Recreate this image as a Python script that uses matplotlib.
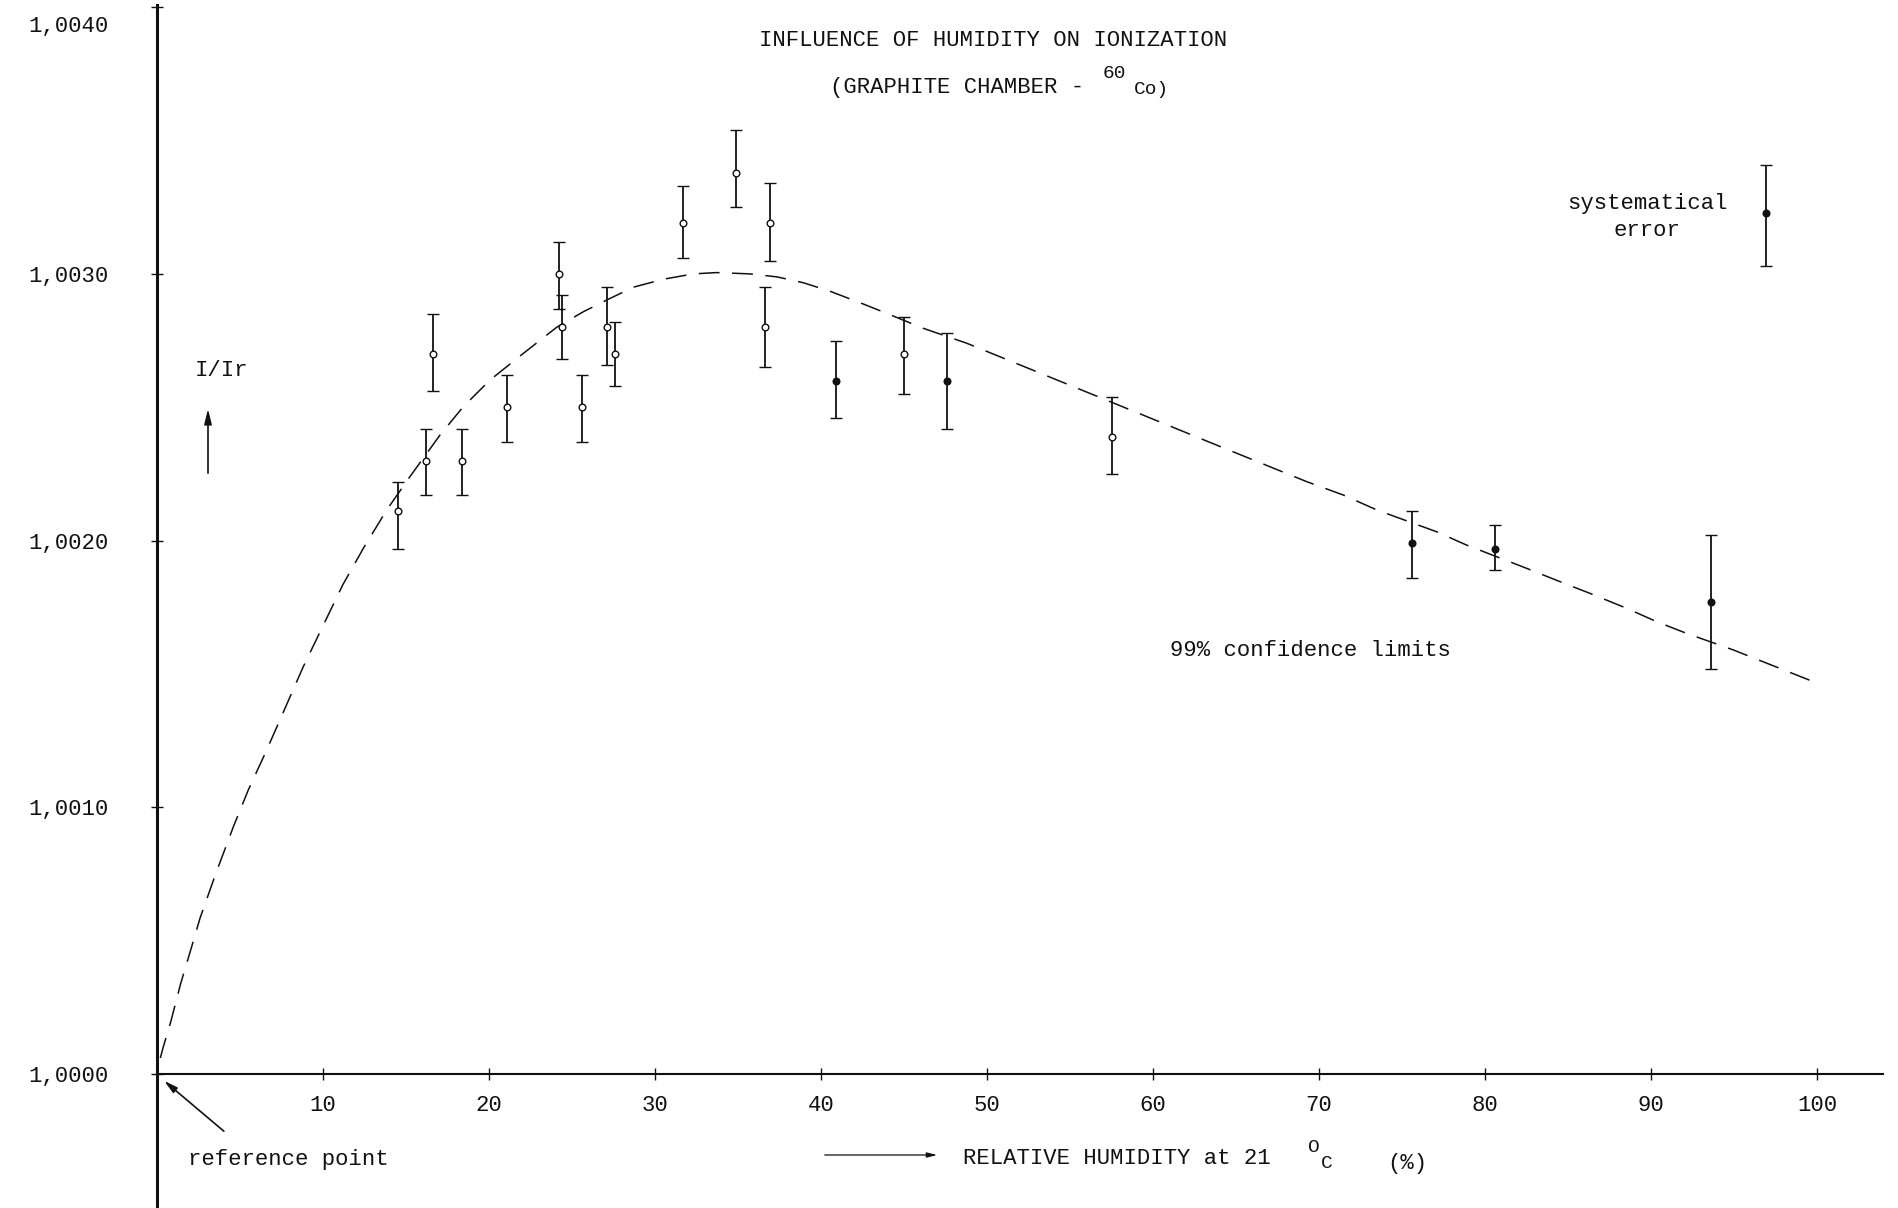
import matplotlib
matplotlib.use("Agg")
import matplotlib.pyplot as plt
import matplotlib.transforms as mtransforms
import numpy as np

plt.rcParams['font.family'] = ['Liberation Mono', 'DejaVu Sans Mono']
plt.rcParams['lines.scale_dashes'] = False

# ---------------- data ----------------
# measurements drawn with open circles (relative humidity %, I/Ir, 99% limits)
open_rh = [14.5, 16.2, 16.6, 18.4, 21.1, 24.2, 24.4, 25.6, 27.1, 27.6,
           31.7, 34.9, 36.6, 36.9, 45.0, 57.5]
open_val = [1.00211, 1.00230, 1.00270, 1.00230, 1.00250, 1.00300, 1.00280,
            1.00250, 1.00280, 1.00270, 1.00319, 1.00338, 1.00280, 1.00319,
            1.00270, 1.00239]
open_low = [1.00197, 1.00217, 1.00256, 1.00217, 1.00237, 1.00287, 1.00268,
            1.00237, 1.00266, 1.00258, 1.00306, 1.00325, 1.00265, 1.00305,
            1.00255, 1.00225]
open_high = [1.00222, 1.00242, 1.00285, 1.00242, 1.00262, 1.00312, 1.00292,
             1.00262, 1.00295, 1.00282, 1.00333, 1.00354, 1.00295, 1.00334,
             1.00284, 1.00254]

# measurements drawn with filled dots
filled_rh = [40.9, 47.6, 75.6, 80.6, 93.6]
filled_val = [1.00260, 1.00260, 1.00199, 1.00197, 1.00177]
filled_low = [1.00246, 1.00242, 1.00186, 1.00189, 1.00152]
filled_high = [1.00275, 1.00278, 1.00211, 1.00206, 1.00202]

# systematical error indicator
sys_rh = [96.9]
sys_val = [1.00323]
sys_low = [1.00303]
sys_high = [1.00341]

# dashed fitted curve
fit_rh = [0.2, 0.38, 0.83, 1.43, 2.03, 2.59, 3.55, 4.60, 5.50, 6.61, 7.71,
          8.81, 11.19, 12.43, 13.84, 15.24, 17.05, 18.45, 20.06, 22.07,
          24.08, 25.68, 27.09, 28.69, 30.50, 32.31, 33.72, 35.72, 37.33,
          38.93, 40.54, 42.35, 43.96, 46.16, 48.78, 56.20, 63.52, 69.26,
          71.46, 73.48, 77.09, 78.90, 82.51, 84.52, 86.33, 88.54, 90.34,
          92.15, 94.96, 99.62]
fit_val = [1.00006, 1.000102, 1.000196, 1.00034, 1.000465, 1.000584,
           1.000753, 1.000927, 1.001065, 1.001215, 1.001371, 1.001527,
           1.001834, 1.001971, 1.002115, 1.00224, 1.002396, 1.002502,
           1.002602, 1.002702, 1.0028, 1.002858, 1.002902, 1.00295,
           1.00298, 1.003, 1.003005, 1.003, 1.002989, 1.002967, 1.002935,
           1.002892, 1.002852, 1.002796, 1.00274, 1.002552, 1.002366,
           1.002221, 1.002171, 1.002115, 1.002033, 1.001983, 1.001896,
           1.001846, 1.001802, 1.001746, 1.001696, 1.001652, 1.00159,
           1.001475]

x_ticks = [10, 20, 30, 40, 50, 60, 70, 80, 90, 100]
x_tick_labels = ["10", "20", "30", "40", "50", "60", "70", "80", "90", "100"]
y_ticks = [1.0000, 1.0010, 1.0020, 1.0030, 1.0040]
y_tick_labels = ["1,0000", "1,0010", "1,0020", "1,0030", "1,0040"]

# ---------------- figure ----------------
W, H = 1899, 1208
fig = plt.figure(figsize=(W / 100, H / 100), dpi=100)
ax = fig.add_axes([0, 0, 1, 1])

x0_px, px_per_pct = 157.0, 16.6
y0_px, px_per_unit = 1074.0, 266700.0
ax.set_xlim(-x0_px / px_per_pct, (W - x0_px) / px_per_pct)
ax.set_ylim(1 - (H - y0_px) / px_per_unit, 1 + y0_px / px_per_unit)

INK = '#111111'
for s in ['top', 'right']:
    ax.spines[s].set_visible(False)
ax.spines['left'].set_position(('data', 0))
ax.spines['bottom'].set_position(('data', 1.0))
ax.spines['left'].set_bounds(ax.get_ylim()[0], 1.00401)
ax.spines['bottom'].set_bounds(0, 104.0)
ax.spines['left'].set_linewidth(2.2)
ax.spines['bottom'].set_linewidth(1.5)
ax.spines['left'].set_color(INK)
ax.spines['bottom'].set_color(INK)

ax.set_xticks(x_ticks, x_tick_labels)
ax.set_yticks(y_ticks, y_tick_labels)
ax.tick_params(axis='both', direction='inout', length=8, width=1.0,
               labelsize=16, colors=INK)
ax.tick_params(axis='x', pad=11)
ax.tick_params(axis='y', pad=31)
top_lbl = ax.yaxis.get_major_ticks()[-1].label1
top_lbl.set_verticalalignment('top')
top_lbl.set_transform(top_lbl.get_transform() +
                      mtransforms.ScaledTranslation(0, -6 / 72,
                                                    fig.dpi_scale_trans))

# dashed curve
ax.plot(fit_rh, fit_val, color=INK, lw=1.1, dashes=(15, 9), zorder=2)


def bars(x, v, lo, hi, face):
    yerr = [np.subtract(v, lo), np.subtract(hi, v)]
    ax.errorbar(x, v, yerr=yerr, fmt='o', ms=4.8, mfc=face, mec=INK,
                mew=1.0, ecolor=INK, elinewidth=1.3, capsize=4.5,
                capthick=1.2, zorder=3)


bars(open_rh, open_val, open_low, open_high, 'white')
bars(filled_rh, filled_val, filled_low, filled_high, INK)
bars(sys_rh, sys_val, sys_low, sys_high, INK)


def fp(X, Y):
    return (X / W, 1 - Y / H)


FS = 16
fig.text(*fp(993, 41), "INFLUENCE OF HUMIDITY ON IONIZATION", ha='center',
         va='center', fontsize=FS, color=INK)
fig.text(*fp(830, 88), "(GRAPHITE CHAMBER -", ha='left', va='center',
         fontsize=FS, color=INK)
fig.text(*fp(1103, 74), "60", ha='left', va='center', fontsize=14, color=INK)
fig.text(*fp(1134, 90), "Co)", ha='left', va='center', fontsize=14, color=INK)

fig.text(*fp(1647, 203), "systematical", ha='center', va='center',
         fontsize=FS, color=INK)
fig.text(*fp(1647, 231), "error", ha='center', va='center', fontsize=FS,
         color=INK)

fig.text(*fp(1310, 650), "99% confidence limits", ha='center', va='center',
         fontsize=FS, color=INK)

fig.text(*fp(195, 371), "I/Ir", ha='left', va='center', fontsize=FS,
         color=INK)
ax.annotate("", xy=fp(208, 406), xycoords='figure fraction',
            xytext=fp(208, 476), textcoords='figure fraction',
            arrowprops=dict(arrowstyle='-|>,head_length=0.9,head_width=0.22',
                            color=INK, lw=1.2))

fig.text(*fp(188, 1159), "reference point", ha='left', va='center',
         fontsize=FS, color=INK)
ax.annotate("", xy=fp(162, 1079), xycoords='figure fraction',
            xytext=fp(226, 1133), textcoords='figure fraction',
            arrowprops=dict(arrowstyle='-|>,head_length=0.8,head_width=0.2',
                            color=INK, lw=1.2))

ax.annotate("", xy=fp(940, 1155), xycoords='figure fraction',
            xytext=fp(822, 1155), textcoords='figure fraction',
            arrowprops=dict(arrowstyle='-|>,head_length=0.6,head_width=0.15',
                            color=INK, lw=0.9))
fig.text(*fp(963, 1158), "RELATIVE HUMIDITY at 21", ha='left', va='center',
         fontsize=FS, color=INK)
fig.text(*fp(1308, 1148), "O", ha='left', va='center', fontsize=14, color=INK)
fig.text(*fp(1321, 1164), "C", ha='left', va='center', fontsize=14, color=INK)
fig.text(*fp(1387, 1164), "(%)", ha='left', va='center', fontsize=FS,
         color=INK)

fig.savefig("out.png", dpi=100, facecolor='white')
